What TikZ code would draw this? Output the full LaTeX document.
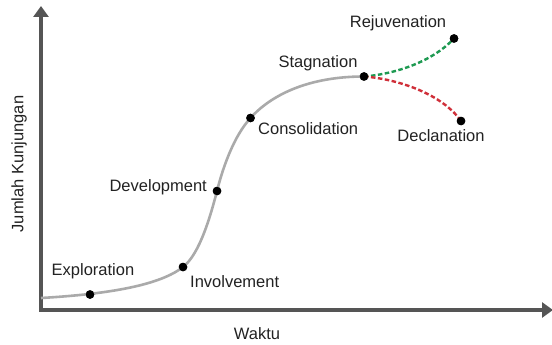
\documentclass[tikz,border=0pt]{standalone}
\usepackage{fontspec}
\setmainfont{Liberation Sans}
\usetikzlibrary{arrows.meta}
\definecolor{axisgray}{HTML}{555555}
\definecolor{curvegray}{HTML}{AAAAAA}
\definecolor{txt}{HTML}{222222}
\definecolor{upgreen}{HTML}{1E9A52}
\definecolor{downred}{HTML}{D0303A}
\tikzset{
  axis/.style={draw=axisgray, line width=3.2pt, -{Triangle[width=15pt,length=11pt]}},
  lifecycle/.style={draw=curvegray, line width=2.6pt},
  branch/.style={line width=2.4pt, dash pattern=on 4.5pt off 2.5pt},
  dot/.style={circle, fill=black, inner sep=0pt, minimum size=8.5pt},
  lbl/.style={text=txt, font=\fontsize{16.5}{19}\selectfont, inner sep=0pt}
}
\begin{document}
\begin{tikzpicture}[x=1pt, y=-1pt]
  \useasboundingbox (0,0) rectangle (552,345);
  \fill[white] (0,0) rectangle (552,345);

  % axes
  \coordinate (origin) at (41,310);
  \coordinate (ytop) at (41,6);
  \coordinate (xend) at (553,310);
  \draw[axis] (origin) -- (ytop);
  \draw[axis] ([xshift=-1.6pt]origin) -- (xend);

  % stage points
  \coordinate (start) at (41,298);
  \node[dot] (expl) at (90,294.5) {};
  \node[dot] (invo) at (183,267) {};
  \node[dot] (deve) at (217,191) {};
  \node[dot] (cons) at (250.5,118) {};
  \node[dot] (stag) at (364,76.5) {};
  \node[dot] (reju) at (454,38.5) {};
  \node[dot] (decl) at (461,121) {};

  % life-cycle curve
  \draw[lifecycle] (start)
      .. controls (110,294) and (160,285) .. (invo.center)
      .. controls (200,254) and (211,214) .. (deve.center)
      .. controls (223,167) and (234,136) .. (cons.center)
      .. controls (272,94) and (310,76.5) .. (stag.center);

  % branches after stagnation
  \draw[branch, draw=upgreen] (stag.center)
      .. controls (395,74) and (432,62) .. (reju.center);
  \draw[branch, draw=downred] (stag.center)
      .. controls (398,79) and (442,94) .. (decl.center);

  % redraw dots above the lines
  \foreach \p in {expl,invo,deve,cons,stag,reju,decl}
    \fill (\p) circle (4.25pt);

  % stage labels
  \node[lbl] (lexpl) at (93,271) {Exploration};
  \node[lbl, anchor=west] (linvo) at (190,282) {Involvement};
  \node[lbl, anchor=east] (ldeve) at (207,187) {Development};
  \node[lbl, anchor=west] (lcons) at (258,129) {Consolidation};
  \node[lbl] (lstag) at (318,63) {Stagnation};
  \node[lbl] (lreju) at (398,23) {Rejuvenation};
  \node[lbl] (ldecl) at (441,136) {Declanation};

  % axis titles
  \node[lbl] (xlab) at (257,334) {Waktu};
  \node[lbl, rotate=90] (ylab) at (19,164) {Jumlah Kunjungan};
\end{tikzpicture}
\end{document}
